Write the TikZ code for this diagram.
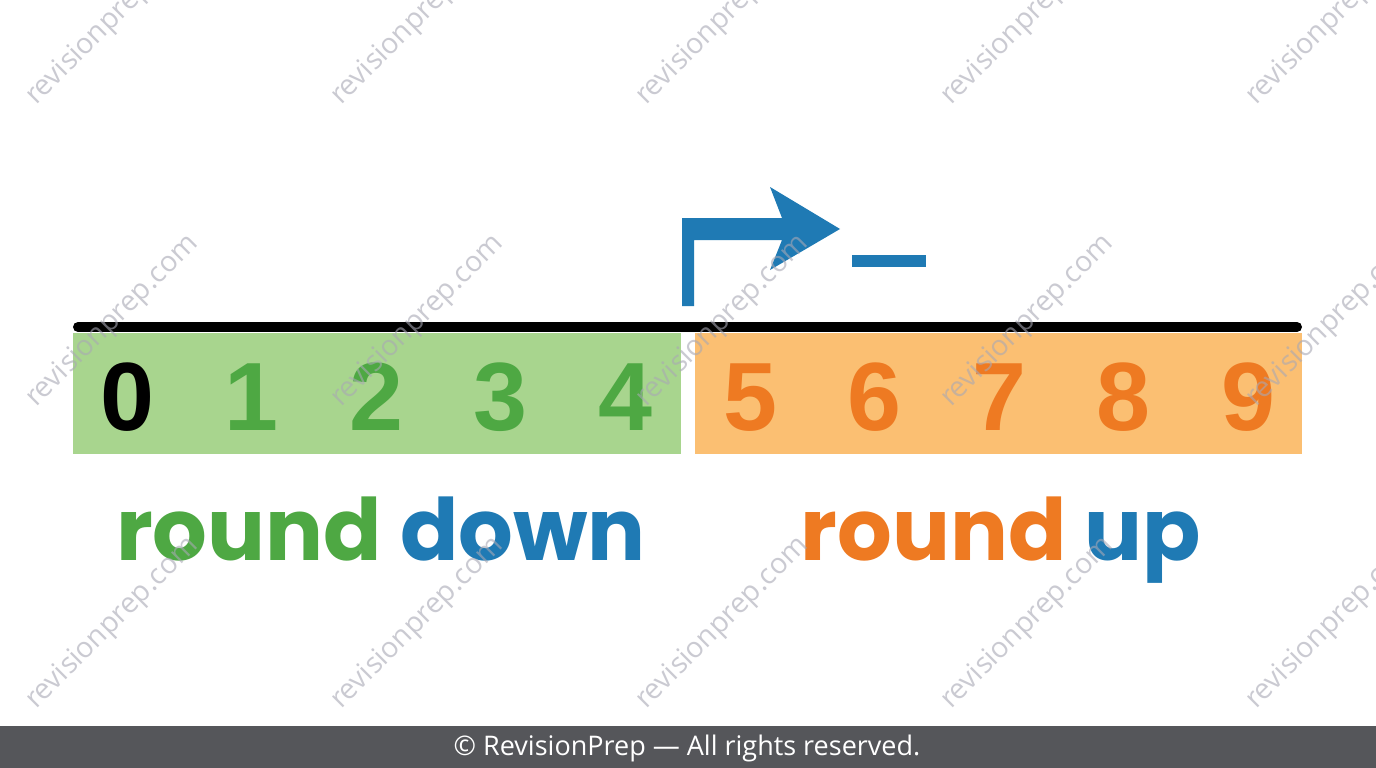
\documentclass[tikz,border=0pt]{standalone}
\usepackage{fontspec}
\setmainfont{Liberation Sans}
\newfontfamily\wordfont{Poppins}
\newfontfamily\footfont{Open Sans}
\newfontfamily\markfont{Open Sans}
\usepackage{tikz}

\definecolor{boxgreen}{HTML}{A8D58E}
\definecolor{downgreen}{HTML}{4EA843}
\definecolor{boxorange}{HTML}{FBBF72}
\definecolor{uporange}{HTML}{EE7A22}
\definecolor{arrowblue}{HTML}{1F7AB4}
\definecolor{footgray}{HTML}{55565A}
\definecolor{markgray}{HTML}{A8A8B4}

\tikzset{
	digit/.style={font=\fontsize{97}{97}\selectfont\bfseries, inner sep=0pt, anchor=base},
	word/.style={font=\wordfont\bfseries\fontsize{86}{86}\selectfont, inner sep=0pt, anchor=base},
	watermark/.style={font=\markfont\fontsize{28.5}{28.5}\selectfont, text=markgray, text opacity=0.6,
		inner sep=0pt, anchor=base west, rotate=45}
}

\newcommand{\drawbox}[5]{% x1, y1, x2, y2, param
	\fill[#5] (#1, #2) -- (#3, #2) -- (#3, #4) -- (#1, #4) -- cycle;
}
\newcommand{\drawdigitrow}[3]{% first, last, colour
	\foreach \i in {#1, ..., #2}
		\node[digit, text=#3] (d\i) at (127 + 124.6*\i, 430) {\i};
}

\begin{document}
\begin{tikzpicture}[x=1pt, y=-1pt]
\useasboundingbox (0, 0) rectangle (1376, 768);
\fill[white] (0, 0) rectangle (1376, 768);

% halves of the line
\drawbox{73}{333}{681}{454}{boxgreen}
\drawbox{695}{333}{1302}{454}{boxorange}
\draw[line width=10pt, line cap=round] (78, 327) -- (1297, 327);

\drawdigitrow{0}{0}{black}
\drawdigitrow{1}{4}{downgreen}
\drawdigitrow{5}{9}{uporange}

\node[word] (down) at (381, 560) {\textcolor{downgreen}{round} \textcolor{arrowblue}{down}};
\node[word] (up) at (1001, 560) {\textcolor{uporange}{round} \textcolor{arrowblue}{up}};

% bent arrow and dash
\fill[arrowblue] (682, 306) -- (682, 218) -- (782, 218) -- (770, 187) -- (840, 229)
	-- (770, 270) -- (782, 240) -- (694, 240) -- (694, 306) -- cycle;
\drawbox{852}{255}{926}{267}{arrowblue}

\begin{scope}
\clip (0, 0) rectangle (1376, 726);
\foreach \c in {0, ..., 4}
	\foreach \r in {0, 1, 2}
		\node[watermark] (w\c\r) at (36 + 305*\c, 106 + 302*\r) {revisionprep.com};
\end{scope}

\drawbox{0}{726}{1376}{768}{footgray}
\node[font=\footfont\fontsize{27}{27}\selectfont, text=white, inner sep=0pt] (foot) at (687, 748)
	{© RevisionPrep — All rights reserved.};
\end{tikzpicture}
\end{document}
